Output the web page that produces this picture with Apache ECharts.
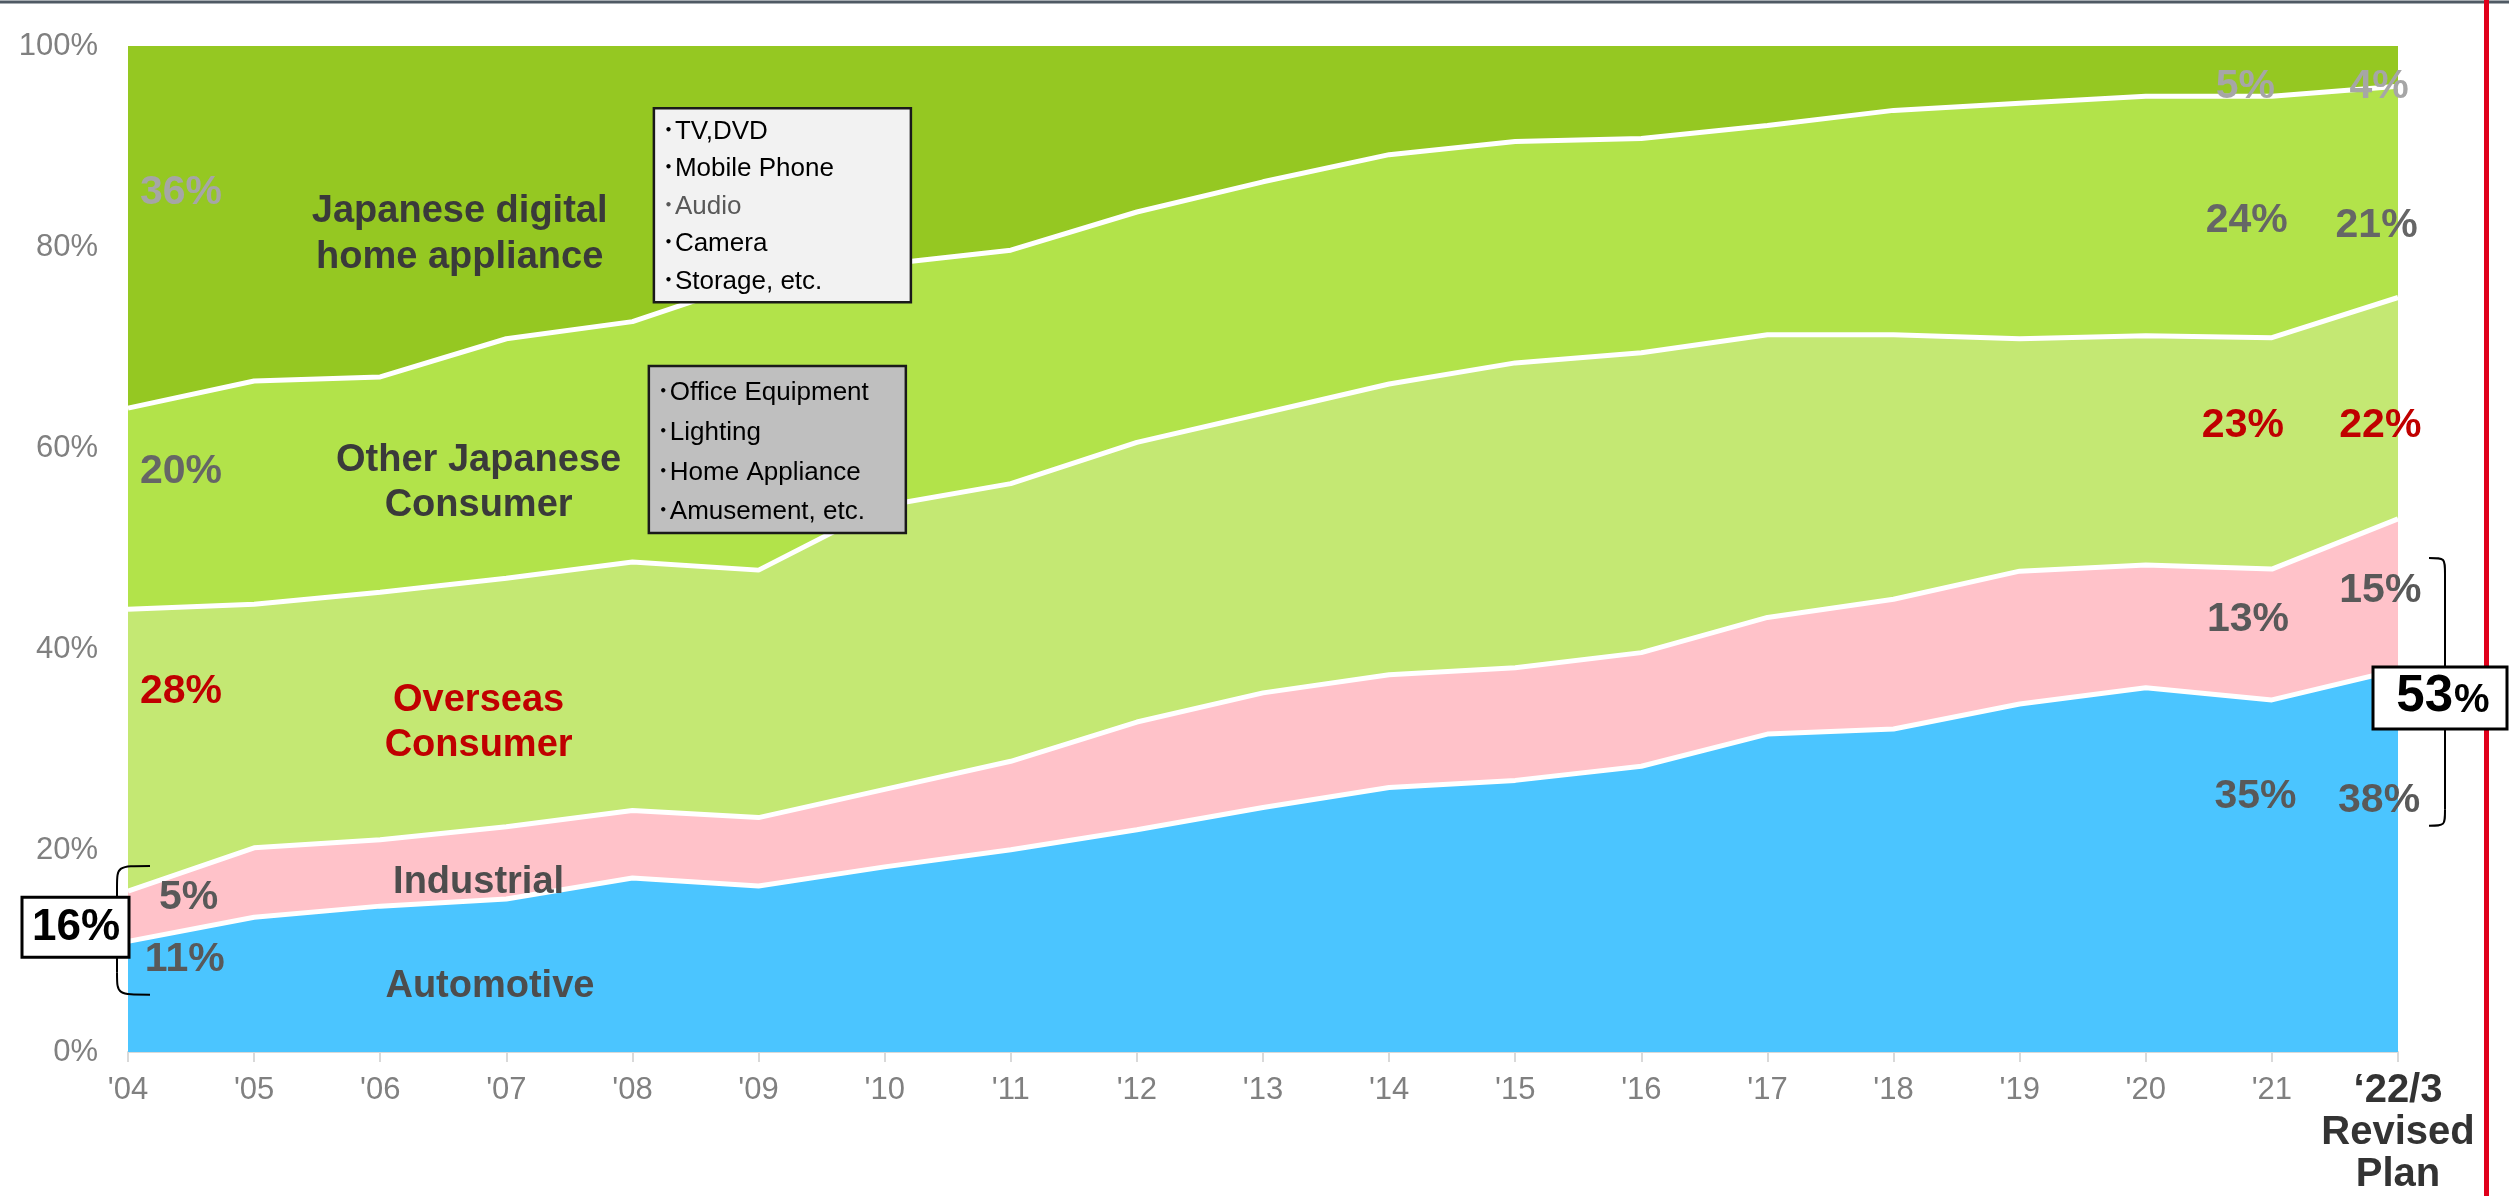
<!DOCTYPE html>
<html>
<head>
<meta charset="utf-8">
<script src="https://cdn.jsdelivr.net/npm/echarts@6/dist/echarts.min.js"></script>
<style>
  html, body { margin: 0; padding: 0; background: #ffffff; }
  #chart { width: 2509px; height: 1196px; }
</style>
</head>
<body>
<div id="chart"></div>
<script>
// Fiscal years (last one is the revised plan)
const years = ["'04", "'05", "'06", "'07", "'08", "'09", "'10", "'11", "'12", "'13",
               "'14", "'15", "'16", "'17", "'18", "'19", "'20", "'21", "\u201822/3\nRevised\nPlan"];

// Sales composition by market, % of total
const automotive       = [11, 13.4, 14.5, 15.2, 17.3, 16.5, 18.4, 20.1, 22.1, 24.3, 26.3, 27.0, 28.4, 31.6, 32.1, 34.6, 36.2, 35, 38];
const industrial       = [5, 6.9, 6.6, 7.2, 6.7, 6.8, 7.7, 8.8, 10.7, 11.4, 11.2, 11.2, 11.3, 11.6, 12.9, 13.2, 12.2, 13, 15];
const overseasConsumer = [28, 24.2, 24.6, 24.7, 24.7, 24.6, 28.2, 27.6, 27.8, 27.8, 28.9, 30.3, 29.8, 28.1, 26.3, 23.1, 22.8, 23, 22];
const otherJapanese    = [20, 22.2, 21.4, 23.8, 23.9, 28.9, 24.0, 23.2, 22.9, 23.0, 22.8, 22.0, 21.3, 20.8, 22.3, 23.4, 23.8, 24, 21];
const digitalHome      = [36, 33.3, 32.9, 29.1, 27.4, 23.2, 21.7, 20.3, 16.5, 13.5, 10.8, 9.5, 9.2, 7.9, 6.4, 5.7, 5.0, 5, 4];

const yTicks = [0, 20, 40, 60, 80, 100];

// Product groups listed in the two call-out boxes
const digitalItems = ['TV,DVD', 'Mobile Phone', 'Audio', 'Camera', 'Storage, etc.'];
const otherItems   = ['Office Equipment', 'Lighting', 'Home Appliance', 'Amusement, etc.'];

const FONT = "'Liberation Sans', Arial, 'Noto Sans CJK JP', sans-serif";
const chart = echarts.init(document.getElementById('chart'), null, { renderer: 'canvas' });

function areaSeries(name, data, color, z, withLine) {
  return {
    name, type: 'line', stack: 'share', data, z,
    symbol: 'none', smooth: false,
    lineStyle: { color: '#ffffff', width: withLine ? 5 : 0 },
    areaStyle: { color, opacity: 1 },
    emphasis: { disabled: true }
  };
}

chart.setOption({
  animation: false,
  backgroundColor: '#ffffff',
  grid: { left: 128, right: 111, top: 46, bottom: 135 },
  xAxis: {
    type: 'category',
    data: years,
    boundaryGap: false,
    axisLine: { show: true, lineStyle: { color: '#d9d9d9', width: 2 } },
    axisTick: { show: true, length: 10, lineStyle: { color: '#d9d9d9', width: 2 } },
    splitLine: { show: false },
    axisLabel: {
      interval: 0,
      margin: 18,
      fontFamily: FONT,
      fontSize: 31,
      color: '#808080',
      lineHeight: 40,
      formatter: function (v) {
        if (v.indexOf('\n') >= 0) {
          return v.split('\n').map(function (l) { return '{b|' + l + '}'; }).join('\n');
        }
        return v;
      },
      rich: {
        b: { fontFamily: FONT, fontSize: 40, fontWeight: 'bold', color: '#333333', lineHeight: 42 }
      }
    }
  },
  yAxis: {
    type: 'value',
    min: yTicks[0],
    max: yTicks[yTicks.length - 1],
    interval: yTicks[1] - yTicks[0],
    axisLine: { show: false },
    axisTick: { show: false },
    splitLine: { show: false },
    axisLabel: { formatter: '{value}%', fontFamily: FONT, fontSize: 31, color: '#808080', margin: 30 }
  },
  series: [
    areaSeries('Automotive', automotive, '#4bc5ff', 6, true),
    areaSeries('Industrial', industrial, '#ffc2c9', 5, true),
    areaSeries('Overseas Consumer', overseasConsumer, '#c4e873', 4, true),
    areaSeries('Other Japanese Consumer', otherJapanese, '#b2e34a', 3, true),
    areaSeries('Japanese digital home appliance', digitalHome, '#95c822', 2, false)
  ]
});

// Helpers mapping (category position, value) to pixels through the axes
const o = chart.convertToPixel({ gridIndex: 0 }, [0, 0]);
const o1 = chart.convertToPixel({ gridIndex: 0 }, [1, 100]);
const step = o1[0] - o[0];
const X = function (i) { return o[0] + i * step; };
const Y = function (v) { return o[1] + (o1[1] - o[1]) * v / 100; };
const last = years.length - 1;

function txt(x, y, text, color, size, weight, lineHeight, z) {
  const style = {
    text, fill: color, fontFamily: FONT, fontSize: size, fontWeight: weight || 'bold',
    align: 'center', verticalAlign: 'middle'
  };
  if (lineHeight) style.lineHeight = lineHeight;
  return { type: 'text', x, y, z: z || 100, style };
}

const g = [];

// frame decorations
g.push({ type: 'rect', z: 90, shape: { x: 0, y: 0.5, width: 2509, height: 3 }, style: { fill: '#4f5a64' } });
g.push({ type: 'rect', z: 90, shape: { x: X(last) + 86, y: 0, width: 5, height: 1196 }, style: { fill: '#e0001b' } });

// segment names
g.push(txt(X(2.63), Y(81.3), 'Japanese digital\nhome appliance', '#3a3a3a', 38, 'bold', 46));
g.push(txt(X(2.78), Y(56.6), 'Other Japanese\nConsumer', '#3a3a3a', 38, 'bold', 45));
g.push(txt(X(2.78), Y(32.7), 'Overseas\nConsumer', '#c00000', 38, 'bold', 45));
g.push(txt(X(2.78), Y(16.8), 'Industrial', '#4d4d4d', 38, 'bold'));
g.push(txt(X(2.87), Y(6.5), 'Automotive', '#4d4d4d', 38, 'bold'));

// share labels for the first year
const cGray = '#a6a6a6', cMid = '#666666', cRed = '#c00000', cDark = '#595959';
g.push(txt(X(0.42), Y(85.4), digitalHome[0] + '%', cGray, 41));
g.push(txt(X(0.42), Y(57.7), otherJapanese[0] + '%', cMid, 41));
g.push(txt(X(0.42), Y(35.8), overseasConsumer[0] + '%', cRed, 41));
g.push(txt(X(0.48), Y(15.3), industrial[0] + '%', cDark, 41));
g.push(txt(X(0.45), Y(9.2), automotive[0] + '%', cDark, 41));

// share labels for '21 and the plan
const a = last - 1, b = last;
g.push(txt(X(a - 0.21), Y(96.0), digitalHome[a] + '%', cGray, 41));
g.push(txt(X(b - 0.15), Y(96.0), digitalHome[b] + '%', cGray, 41));
g.push(txt(X(a - 0.2), Y(82.6), otherJapanese[a] + '%', cMid, 41));
g.push(txt(X(b - 0.17), Y(82.1), otherJapanese[b] + '%', cMid, 41));
g.push(txt(X(a - 0.23), Y(62.3), overseasConsumer[a] + '%', cRed, 41));
g.push(txt(X(b - 0.14), Y(62.3), overseasConsumer[b] + '%', cRed, 41));
g.push(txt(X(a - 0.19), Y(43.0), industrial[a] + '%', cDark, 41));
g.push(txt(X(b - 0.14), Y(45.9), industrial[b] + '%', cDark, 41));
g.push(txt(X(a - 0.13), Y(25.4), automotive[a] + '%', cDark, 41));
g.push(txt(X(b - 0.15), Y(25.0), automotive[b] + '%', cDark, 41));

// curly brace built from two curves and a straight stem
function brace(xTip, xStem, yTop, yBot, r) {
  const st = { stroke: '#000000', lineWidth: 2, fill: null };
  const dir = yBot > yTop ? 1 : -1;
  g.push({ type: 'bezierCurve', z: 95, style: st,
    shape: { x1: xTip, y1: yTop, cpx1: xStem, cpy1: yTop, cpx2: xStem, cpy2: yTop, x2: xStem, y2: yTop + dir * r } });
  g.push({ type: 'line', z: 95, style: st,
    shape: { x1: xStem, y1: yTop + dir * r, x2: xStem, y2: yBot - dir * r } });
  g.push({ type: 'bezierCurve', z: 95, style: st,
    shape: { x1: xStem, y1: yBot - dir * r, cpx1: xStem, cpy1: yBot, cpx2: xStem, cpy2: yBot, x2: xTip, y2: yBot } });
}

// left brace and total box
const lx = X(0);
brace(lx + 22, lx - 11, Y(18.5), Y(5.7), 22);
g.push({ type: 'rect', z: 96, shape: { x: lx - 106, y: Y(12.4) - 30, width: 107, height: 60 },
  style: { fill: '#ffffff', stroke: '#000000', lineWidth: 3 } });
g.push(txt(lx - 52, Y(12.4) + 1, (automotive[0] + industrial[0]) + '%', '#000000', 44, 'bold', null, 97));

// right brace and total box
const rx = X(last);
brace(rx + 31, rx + 47, Y(49.1), Y(22.5), 16);
g.push({ type: 'rect', z: 96, shape: { x: rx - 25, y: Y(35.2) - 31, width: 134, height: 62 },
  style: { fill: '#ffffff', stroke: '#000000', lineWidth: 3 } });
g.push({ type: 'text', z: 97, x: rx + 55, y: Y(35.2) + 25,
  style: { text: String(automotive[last] + industrial[last]), fill: '#000000', fontFamily: FONT, fontSize: 51, fontWeight: 'bold', align: 'right', verticalAlign: 'bottom' } });
g.push({ type: 'text', z: 97, x: rx + 56, y: Y(35.2) + 23,
  style: { text: '%', fill: '#000000', fontFamily: FONT, fontSize: 40, fontWeight: 'bold', align: 'left', verticalAlign: 'bottom' } });

// call-out boxes with product groups
function listBox(x0, y0, w, h, fill, items, lineGap, firstY, colors) {
  g.push({ type: 'rect', z: 98, shape: { x: x0, y: y0, width: w, height: h },
    style: { fill, stroke: '#1a1a1a', lineWidth: 2.5 } });
  items.forEach(function (t, k) {
    g.push({ type: 'text', z: 99, x: x0 + 8, y: firstY + k * lineGap,
      style: { text: '\uFF65' + t, fill: colors[k], fontFamily: FONT, fontSize: 26, fontWeight: 'normal', align: 'left', verticalAlign: 'middle' } });
  });
}
listBox(X(4.17), Y(93.8), 257, 194, '#f2f2f2', digitalItems, 37.5, Y(91.5),
  ['#000000', '#000000', '#595959', '#000000', '#000000']);
listBox(X(4.13), Y(68.2), 257, 167, '#bfbfbf', otherItems, 39.7, Y(65.5),
  ['#000000', '#000000', '#000000', '#000000']);

chart.setOption({ graphic: { elements: g } });
</script>
</body>
</html>
